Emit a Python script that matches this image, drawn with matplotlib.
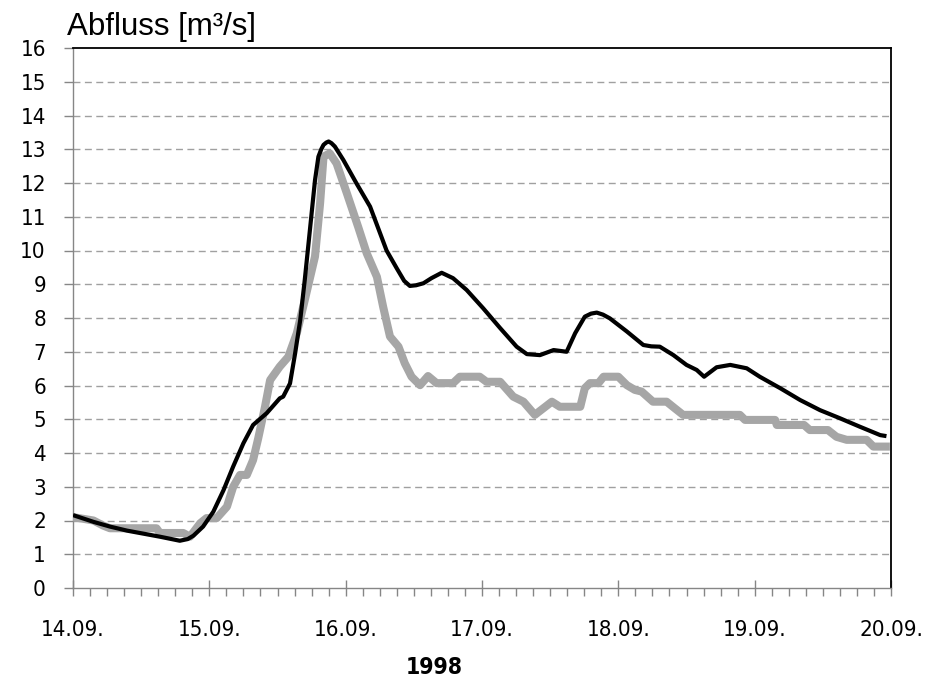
import matplotlib
matplotlib.use("Agg")
import matplotlib.pyplot as plt
from matplotlib.ticker import FixedLocator, MultipleLocator, NullFormatter

# Time axis in hours after 14.09.1998 00:00
hours_black = [0, 3.6, 6.5, 9.5, 15.3, 18.8, 20.2, 21.2, 22.9, 24.7, 26.5, 28.2,
               30.0, 31.7, 34.1, 36.4, 37.0, 38.2, 39.1, 40.0, 40.8, 41.7, 42.6,
               43.2, 43.7, 44.1, 44.6, 45.0, 45.5, 46.1, 47.6, 49.9, 52.3, 55.2,
               57.0, 58.3, 59.3, 60.4, 61.7, 63.1, 64.9, 66.9, 69.3, 72.2, 75.2,
               78.1, 79.9, 82.2, 84.6, 86.9, 88.4, 90.1, 91.2, 92.2, 93.3, 94.5,
               97.5, 100.4, 101.8, 103.3, 105.7, 108.0, 109.8, 111.1, 113.3, 115.7,
               118.6, 120.9, 124.5, 128.0, 131.5, 135.0, 138.5, 142.1, 143.2]
flow_black = [2.16, 1.96, 1.82, 1.70, 1.52, 1.40, 1.45, 1.55, 1.82, 2.26, 2.90,
              3.60, 4.29, 4.83, 5.18, 5.62, 5.67, 6.06, 6.95, 7.94, 9.13, 10.6,
              12.08, 12.78, 13.0, 13.13, 13.2, 13.23, 13.18, 13.08, 12.68, 11.99,
              11.3, 10.0, 9.47, 9.1, 8.95, 8.97, 9.03, 9.18, 9.34, 9.18, 8.83,
              8.29, 7.70, 7.15, 6.93, 6.90, 7.05, 7.0, 7.55, 8.04, 8.13, 8.16,
              8.1, 7.99, 7.60, 7.2, 7.16, 7.15, 6.90, 6.61, 6.46, 6.26, 6.54,
              6.61, 6.51, 6.26, 5.92, 5.57, 5.27, 5.03, 4.78, 4.53, 4.50]

hours_gray = [0, 3.6, 5.3, 6.5, 14.7, 15.3, 19.4, 20.6, 22.4, 23.5, 25.3, 27.1,
              28.2, 29.4, 30.6, 31.7, 32.6, 33.8, 34.7, 36.4, 37.9, 39.4, 40.8,
              42.6, 43.5, 44.1, 45.2, 46.4, 48.2, 50.2, 51.7, 53.5, 54.6, 55.8,
              57.3, 58.4, 59.6, 61.1, 62.5, 64.0, 66.9, 68.1, 71.6, 72.8, 75.2,
              77.5, 79.3, 81.3, 84.3, 85.7, 89.3, 90.1, 91.0, 92.5, 93.4, 96.0,
              97.5, 98.9, 100.1, 102.1, 104.5, 105.9, 107.4, 117.4, 118.3, 123.6,
              123.9, 128.7, 129.7, 132.9, 134.4, 136.2, 139.7, 140.9, 143.8]
flow_gray = [2.1, 2.0, 1.85, 1.77, 1.77, 1.63, 1.63, 1.52, 1.92, 2.07, 2.07,
             2.41, 3.0, 3.35, 3.35, 3.79, 4.43, 5.37, 6.16, 6.56, 6.85, 7.55,
             8.53, 9.82, 11.4, 12.78, 12.88, 12.58, 11.7, 10.7, 9.92, 9.22, 8.33,
             7.45, 7.15, 6.66, 6.26, 6.01, 6.28, 6.07, 6.07, 6.26, 6.26, 6.11,
             6.11, 5.67, 5.52, 5.13, 5.52, 5.37, 5.37, 5.92, 6.07, 6.07, 6.26,
             6.26, 6.01, 5.87, 5.82, 5.52, 5.52, 5.33, 5.13, 5.13, 4.98, 4.98,
             4.83, 4.83, 4.68, 4.68, 4.48, 4.39, 4.39, 4.19, 4.19]

day_labels = ["14.09.", "15.09.", "16.09.", "17.09.", "18.09.", "19.09.", "20.09."]
year_label = "1998"
y_title = "Abfluss [m\u00b3/s]"

TICK_FONT = dict(family=["DejaVu Sans"], stretch="condensed")

fig = plt.figure(figsize=(9.39, 6.78), dpi=100)
ax = fig.add_axes([73 / 939, 1 - 588 / 678, (891 - 73) / 939, (588 - 48) / 678])

ax.plot(hours_gray, flow_gray, color="#a6a6a6", lw=5.8, solid_joinstyle="round",
        solid_capstyle="butt", zorder=3)
ax.plot(hours_black, flow_black, color="black", lw=3.0, solid_joinstyle="round",
        solid_capstyle="butt", zorder=4)

ax.set_xlim(0, 144)
ax.set_ylim(0, 16)

# horizontal dashed grid
for v in range(1, 16):
    ax.axhline(v, color="#a0a0a0", lw=1.0, dashes=(5, 3.2), zorder=1)

ax.xaxis.set_major_locator(FixedLocator([24 * i for i in range(len(day_labels))]))
ax.xaxis.set_minor_locator(MultipleLocator(3))
ax.xaxis.set_minor_formatter(NullFormatter())
ax.set_xticklabels(day_labels, fontsize=16, **TICK_FONT)
ax.set_yticks(range(0, 17))
ax.set_yticklabels([str(v) for v in range(0, 17)], fontsize=16, **TICK_FONT)

ax.tick_params(axis="x", which="major", direction="inout", length=12, width=1,
               color="#868686", pad=17)
ax.tick_params(axis="x", which="minor", direction="out", length=5.5, width=1,
               color="#868686")
ax.tick_params(axis="y", which="major", direction="out", length=6.5, width=1,
               color="#868686", pad=13)

for side in ("left", "bottom"):
    ax.spines[side].set_color("#868686")
    ax.spines[side].set_linewidth(1.0)
for side in ("top", "right"):
    ax.spines[side].set_color("black")
    ax.spines[side].set_linewidth(1.3)

fig.text(67 / 939, 1 - 35 / 678, y_title, fontsize=22.5, family="Liberation Sans",
         ha="left", va="baseline")
fig.text(434 / 939, 1 - 674 / 678, year_label, fontsize=16.5, fontweight="bold",
         ha="center", va="baseline", **TICK_FONT)

fig.savefig("out.png", dpi=100)
